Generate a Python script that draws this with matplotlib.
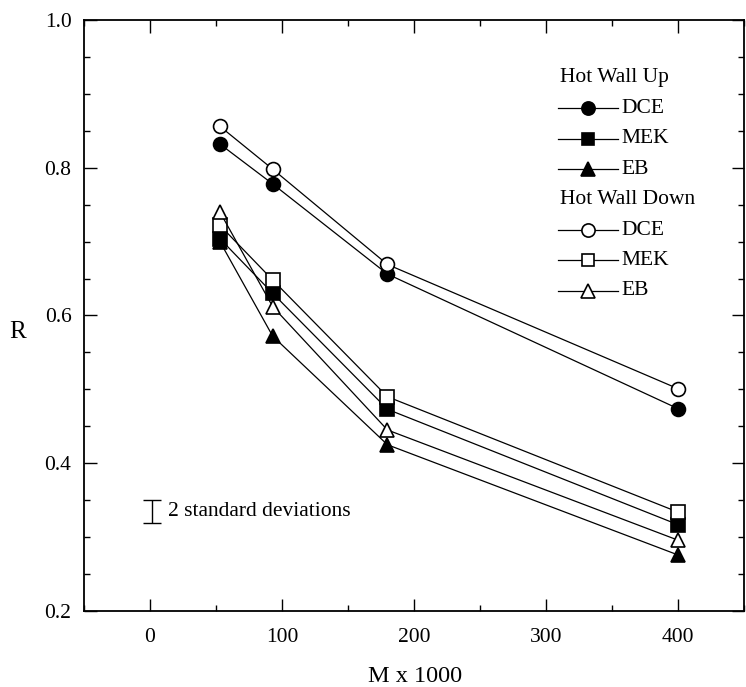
#!/usr/bin/env python3
import matplotlib
matplotlib.use("Agg")
import matplotlib.pyplot as plt
from matplotlib.ticker import MultipleLocator

# molecular weight (M x 1000) and R for each solvent / wall orientation
mw = [53, 93, 180, 400]

up_dce = [0.832, 0.778, 0.656, 0.474]
up_mek = [0.704, 0.630, 0.473, 0.317]
up_eb = [0.700, 0.572, 0.425, 0.276]

down_dce = [0.856, 0.798, 0.669, 0.501]
down_mek = [0.722, 0.648, 0.490, 0.334]
down_eb = [0.740, 0.612, 0.445, 0.296]

sd_x = 1.5
sd_y = 0.335
sd_err = 0.0155

plt.rcParams["font.family"] = ["Liberation Serif", "DejaVu Serif"]
plt.rcParams["font.size"] = 15

series = [
    ("Hot Wall Up", None, None, None),
    ("DCE", up_dce, "o", "black"),
    ("MEK", up_mek, "s", "black"),
    ("EB", up_eb, "^", "black"),
    ("Hot Wall Down", None, None, None),
    ("DCE", down_dce, "o", "white"),
    ("MEK", down_mek, "s", "white"),
    ("EB", down_eb, "^", "white"),
]
msize = {"o": 10, "s": 9.5, "^": 10.5}

fig = plt.figure(figsize=(7.46, 6.87), dpi=100)
ax = fig.add_axes([0.1126, 0.1106, 0.8844, 0.8604])

for label, vals, mk, fc in series:
    if vals is None:
        continue
    ax.plot(mw, vals, color="black", lw=0.9, marker=mk, ms=msize[mk],
            mfc=fc, mec="black", mew=1.2, zorder=3)

# error bar showing 2 standard deviations
ax.errorbar([sd_x], [sd_y], yerr=[sd_err], fmt="none", ecolor="black",
            elinewidth=1.0, capsize=6.5, capthick=1.0)
ax.text(13.5, sd_y, "2 standard deviations", va="center", ha="left", fontsize=15.5)

# hand-built legend with group headers
y0 = 0.902
step = 0.0515
for i, (label, vals, mk, fc) in enumerate(series):
    yy = y0 - i * step
    if vals is None:
        ax.text(0.721, yy, label, transform=ax.transAxes, va="center", ha="left",
                fontsize=15.5)
        continue
    ax.plot([0.718, 0.810], [yy, yy], color="black", lw=0.9,
            transform=ax.transAxes, clip_on=False)
    ax.plot([0.764], [yy], marker=mk, ms=msize[mk] - 0.5, mfc=fc, mec="black",
            mew=1.2, transform=ax.transAxes, clip_on=False)
    ax.text(0.815, yy, label, transform=ax.transAxes, va="center", ha="left",
            fontsize=15.5)

ax.set_xlim(-50, 450)
ax.set_ylim(0.2, 1.0)
ax.set_xticks([0, 100, 200, 300, 400])
ax.set_yticks([0.2, 0.4, 0.6, 0.8, 1.0])
ax.xaxis.set_minor_locator(MultipleLocator(50))
ax.yaxis.set_minor_locator(MultipleLocator(0.05))
ax.tick_params(which="both", direction="in", top=True, right=True, width=1.0)
ax.tick_params(which="major", length=9, labelsize=15.5)
ax.tick_params(axis="x", which="major", pad=12)
ax.tick_params(axis="y", which="major", pad=9)
ax.tick_params(which="minor", length=4.5)
for sp in ax.spines.values():
    sp.set_linewidth(1.3)

ax.set_xlabel("M x 1000", fontsize=17.5)
ax.xaxis.set_label_coords(0.5015, -0.093)
ax.set_ylabel("R", rotation=0, fontsize=18, ha="center", va="center")
ax.yaxis.set_label_coords(-0.1, 0.472)

fig.savefig("out.png", dpi=100)
plt.close(fig)
